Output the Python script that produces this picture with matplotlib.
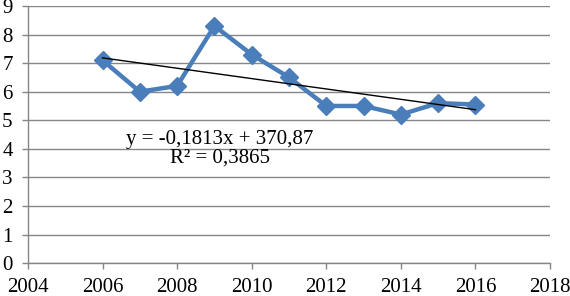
import matplotlib
matplotlib.use("Agg")
import matplotlib.pyplot as plt
import numpy as np

anos = [2006, 2007, 2008, 2009, 2010, 2011, 2012, 2013, 2014, 2015, 2016]
valores = [7.1, 6.0, 6.2, 8.3, 7.3, 6.5, 5.5, 5.5, 5.2, 5.6, 5.55]

# coeficientes da linha de tendência mostrada no gráfico
inclinacao = -0.1813
intercepto = 370.87
r2 = 0.3865

xticks = [2004, 2006, 2008, 2010, 2012, 2014, 2016, 2018]
yticks = list(range(0, 10))

plt.rcParams["font.family"] = ["Liberation Serif", "DejaVu Serif"]

fig = plt.figure(figsize=(5.7, 2.96), dpi=100)
ax = fig.add_axes([0.049, 0.111, 0.916, 0.869])

cinza = "#868686"
ax.grid(True, axis="y", color=cinza, linewidth=1.0)
ax.set_axisbelow(True)

ax.plot(anos, valores, color="#4A7EBB", linewidth=3.2, marker="D",
        markersize=9.5, markerfacecolor="#4A7EBB", markeredgecolor="#4A7EBB",
        zorder=3)

xt = np.array([anos[0], anos[-1]], dtype=float)
ax.plot(xt, inclinacao * xt + intercepto, color="black", linewidth=1.0,
        zorder=4)

ax.text(2009.15, 4.33, "y = -0,1813x + 370,87", fontsize=15,
        ha="center", va="center")
ax.text(2009.15, 3.67, f"R² = {r2:.4f}".replace(".", ","), fontsize=15,
        ha="center", va="center")

ax.set_xlim(2004, 2018)
ax.set_ylim(0, 9)
ax.set_xticks(xticks)
ax.set_yticks(yticks)
ax.tick_params(labelsize=15, color=cinza, length=4, width=1.0, pad=7)
ax.tick_params(axis="y", pad=7)

for lado in ["top", "right"]:
    ax.spines[lado].set_visible(False)
for lado in ["left", "bottom"]:
    ax.spines[lado].set_color(cinza)
    ax.spines[lado].set_linewidth(1.0)

fig.savefig("out.png", facecolor="white")
